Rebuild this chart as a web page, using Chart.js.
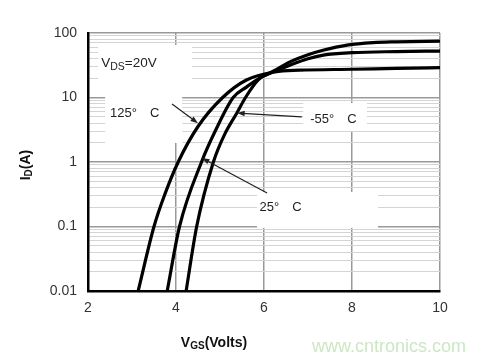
<!DOCTYPE html>
<html>
<head>
<meta charset="utf-8">
<script src="https://cdn.jsdelivr.net/npm/chart.js@4"></script>
<style>
  html, body { margin: 0; padding: 0; background: #fff; }
  #wrap { width: 496px; height: 362px; position: relative; }
</style>
</head>
<body>
<div id="wrap"><canvas id="chart"></canvas></div>
<script>
// curve values (VGS in volts, ID in amps)
const vgs125 = [3.14, 3.5, 3.75, 4.05, 4.5, 5.06, 5.6, 6.25, 6.8, 8, 9, 10];
const id125  = [0.01, 0.1, 0.32, 1, 3.55, 10, 18.7, 25, 26.5, 27.4, 28.2, 29];
const vgs25  = [3.8, 4.08, 4.58, 4.9, 5.3, 5.6, 5.9, 6.25, 6.6, 7.0, 7.35, 8, 9, 10];
const id25   = [0.01, 0.1, 1, 3.1, 10, 14.5, 20, 25.5, 32, 40, 45.5, 49.5, 51.5, 52.5];
const vgsM55 = [4.23, 4.47, 4.85, 5.1, 5.38, 5.58, 5.87, 6.25, 6.6, 7.0, 7.34, 7.89, 8.48, 9, 10];
const idM55  = [0.01, 0.1, 1, 2.63, 5.7, 10, 18.7, 26.5, 36, 46, 54, 65, 71, 73, 75];

const xTicks = [2, 4, 6, 8, 10];
const yTickLabels = [0.01, 0.1, 1, 10, 100];

// annotation text, arrows and the white boxes behind them, in data units
const labels = [
  { text: '125°\u2003C', x: 2.5, y: 5.75 },
  { text: '-55°\u2003C', x: 7.05, y: 4.6 },
  { text: '25°\u2003C', x: 5.9, y: 0.2 }
];
const arrows = [
  { from: [3.91, 7.9], to: [4.5, 4.0] },
  { from: [6.86, 5.0], to: [5.39, 5.75] },
  { from: [6.07, 0.33], to: [4.59, 1.15] }
];
const boxes = [
  [2.23, 65, 4.36, 12.2],
  [2.39, 12.2, 4.14, 1.97],
  [6.89, 8.2, 8.34, 3.03],
  [5.84, 0.343, 8.59, 0.095]
];

function pts(xs, ys) { return xs.map((v, i) => ({ x: v, y: ys[i] })); }

// minor ticks 1..9 of each decade
let yTicks = [];
for (let d = 0; d < yTickLabels.length - 1; d++) {
  for (let k = 1; k <= 9; k++) yTicks.push(+(k * yTickLabels[d]).toPrecision(3));
}
yTicks.push(yTickLabels[yTickLabels.length - 1]);
const isDecade = v => yTickLabels.some(t => Math.abs(t - v) / t < 1e-6);

const FONT = '"Liberation Sans", Arial, sans-serif';

const decor = {
  id: 'decor',
  beforeDatasetsDraw(chart) {
    const { ctx, scales: { x, y } } = chart;
    ctx.save();
    ctx.fillStyle = '#fff';
    boxes.forEach(b => {
      const x1 = x.getPixelForValue(b[0]), y1 = y.getPixelForValue(b[1]);
      const x2 = x.getPixelForValue(b[2]), y2 = y.getPixelForValue(b[3]);
      ctx.fillRect(x1, y1, x2 - x1, y2 - y1);
    });
    ctx.restore();
  },
  afterDatasetsDraw(chart) {
    const { ctx, scales: { x, y } } = chart;
    ctx.save();
    ctx.fillStyle = '#222';
    ctx.textBaseline = 'middle';
    ctx.textAlign = 'left';
    ctx.font = '13px ' + FONT;
    labels.forEach(l => ctx.fillText(l.text, x.getPixelForValue(l.x), y.getPixelForValue(l.y)));

    // V_DS=20V
    ctx.font = '13.5px ' + FONT;
    let px = x.getPixelForValue(2.3), py = y.getPixelForValue(34.3);
    ctx.fillText('V', px, py);
    px += ctx.measureText('V').width;
    ctx.font = '10.5px ' + FONT;
    ctx.fillText('DS', px, py + 4);
    px += ctx.measureText('DS').width;
    ctx.font = '13.5px ' + FONT;
    ctx.fillText('=20V', px, py);

    // arrows
    ctx.strokeStyle = '#222';
    ctx.fillStyle = '#222';
    ctx.lineWidth = 1.2;
    arrows.forEach(a => {
      const x1 = x.getPixelForValue(a.from[0]), y1 = y.getPixelForValue(a.from[1]);
      const x2 = x.getPixelForValue(a.to[0]), y2 = y.getPixelForValue(a.to[1]);
      const ang = Math.atan2(y2 - y1, x2 - x1);
      ctx.beginPath();
      ctx.moveTo(x1, y1);
      ctx.lineTo(x2 - 5 * Math.cos(ang), y2 - 5 * Math.sin(ang));
      ctx.stroke();
      ctx.beginPath();
      ctx.moveTo(x2, y2);
      ctx.lineTo(x2 - 8 * Math.cos(ang - 0.35), y2 - 8 * Math.sin(ang - 0.35));
      ctx.lineTo(x2 - 8 * Math.cos(ang + 0.35), y2 - 8 * Math.sin(ang + 0.35));
      ctx.closePath();
      ctx.fill();
    });
    ctx.restore();
  },
  afterDraw(chart) {
    const { ctx } = chart;
    ctx.save();
    ctx.fillStyle = '#111';
    ctx.textBaseline = 'middle';
    ctx.textAlign = 'left';

    // x title: V_GS(Volts)
    ctx.font = 'bold 14px ' + FONT;
    const wV = ctx.measureText('V').width;
    ctx.font = 'bold 10px ' + FONT;
    const wS = ctx.measureText('GS').width;
    ctx.font = 'bold 14px ' + FONT;
    const wR = ctx.measureText('(Volts)').width;
    let px = 214 - (wV + wS + wR) / 2;
    ctx.fillText('V', px, 343);
    px += wV;
    ctx.font = 'bold 10px ' + FONT;
    ctx.fillText('GS', px, 346);
    px += wS;
    ctx.font = 'bold 14px ' + FONT;
    ctx.fillText('(Volts)', px, 343);

    // y title: I_D(A), rotated
    ctx.translate(26, 165);
    ctx.rotate(-Math.PI / 2);
    ctx.font = 'bold 14px ' + FONT;
    const wI = ctx.measureText('I').width;
    ctx.font = 'bold 10px ' + FONT;
    const wD = ctx.measureText('D').width;
    ctx.font = 'bold 14px ' + FONT;
    const wA = ctx.measureText('(A)').width;
    px = -(wI + wD + wA) / 2;
    ctx.fillText('I', px, 0);
    px += wI;
    ctx.font = 'bold 10px ' + FONT;
    ctx.fillText('D', px, 3);
    px += wD;
    ctx.font = 'bold 14px ' + FONT;
    ctx.fillText('(A)', px, 0);
    ctx.restore();

    // watermark
    ctx.save();
    ctx.fillStyle = '#cde6c6';
    ctx.font = '18px ' + FONT;
    ctx.textBaseline = 'middle';
    ctx.textAlign = 'left';
    ctx.fillText('www.cntronics.com', 312, 347);
    ctx.restore();
  }
};

const line = (data) => ({
  data: data,
  borderColor: '#000',
  borderWidth: 3.2,
  pointRadius: 0,
  fill: false,
  cubicInterpolationMode: 'monotone'
});

new Chart(document.getElementById('chart'), {
  type: 'line',
  data: {
    datasets: [
      line(pts(vgs125, id125)),
      line(pts(vgs25, id25)),
      line(pts(vgsM55, idM55))
    ]
  },
  options: {
    responsive: true,
    maintainAspectRatio: false,
    animation: false,
    layout: { padding: { left: 0, right: 56, top: 33, bottom: 0 } },
    plugins: { legend: { display: false }, tooltip: { enabled: false } },
    scales: {
      x: {
        type: 'linear',
        min: 2,
        max: 10,
        afterBuildTicks: s => { s.ticks = xTicks.map(v => ({ value: v })); },
        afterFit: s => { s.height = 71; },
        grid: { color: '#999', lineWidth: 1.5, drawTicks: false },
        border: { color: '#000', width: 2.5 },
        ticks: { padding: 9, color: '#333', font: { family: FONT, size: 14 } }
      },
      y: {
        type: 'logarithmic',
        min: 0.01,
        max: 100,
        afterBuildTicks: s => { s.ticks = yTicks.map(v => ({ value: v })); },
        afterFit: s => { s.width = 88; },
        grid: {
          drawTicks: false,
          color: c => isDecade(c.tick.value) ? '#999' : '#d4d4d4',
          lineWidth: c => isDecade(c.tick.value) ? 1.5 : 1
        },
        border: { color: '#000', width: 2.5 },
        ticks: {
          padding: 11,
          color: '#333',
          font: { family: FONT, size: 14 },
          autoSkip: false,
          callback: v => isDecade(v) ? String(yTickLabels.find(t => Math.abs(t - v) / t < 1e-6)) : ''
        }
      }
    }
  },
  plugins: [decor]
});
</script>
</body>
</html>
